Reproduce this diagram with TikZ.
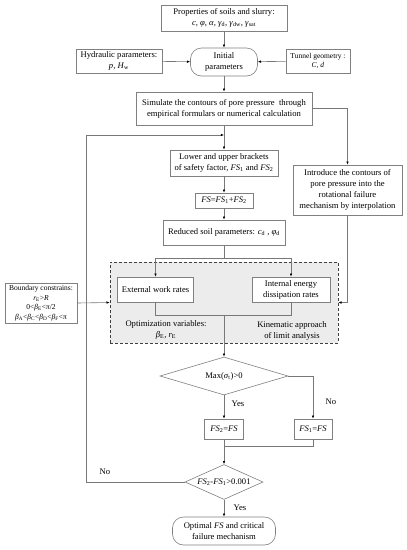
\documentclass[tikz,border=0pt]{standalone}
\usepackage{fontspec}
\setmainfont{Liberation Serif}
\usetikzlibrary{arrows.meta,shapes.geometric,calc}
\definecolor{boxgray}{RGB}{128,128,128}
\definecolor{linegray}{RGB}{120,120,120}
\definecolor{panelfill}{RGB}{236,236,236}
\begin{document}
\begin{tikzpicture}[x=1pt,y=-1pt,
  box/.style={draw=boxgray, line width=0.6pt, fill=white, align=center, inner sep=0pt, font=\fontsize{8.6}{11}\selectfont},
  smallbox/.style={box, font=\fontsize{7.5}{9.5}\selectfont},
  roundbox/.style={box, rounded corners=11pt},
  decision/.style={draw=boxgray, line width=0.6pt, fill=white, shape=diamond, inner sep=0pt, align=center, font=\fontsize{8.6}{11}\selectfont},
  lbl/.style={align=center, inner sep=0pt, font=\fontsize{8.6}{11}\selectfont},
  ln/.style={draw=linegray, line width=0.6pt},
  arr/.style={ln, -{Latex[length=3.2pt,width=2.6pt,color=black]}},
  panelbox/.style={draw=black!75, line width=0.6pt, dash pattern=on 3pt off 2pt, fill=panelfill, inner sep=0pt}
]
\useasboundingbox (0,0) rectangle (407,550);

% dashed panel
\node[panelbox, minimum width=228pt, minimum height=81pt] (panel) at (224,302.5) {};

% nodes
\node[box, minimum width=126pt, minimum height=26pt] (props) at (224,18)
  {Properties of soils and slurry:\\ \textit{c}, \textit{φ}, \textit{α}, \textit{γ}\textsubscript{d}, \textit{γ}\textsubscript{dw}, \textit{γ}\textsubscript{sat}};
\node[roundbox, minimum width=67pt, minimum height=28pt] (init) at (224,62) {Initial\\parameters};
\node[box, minimum width=86pt, minimum height=24pt] (hyd) at (119,61) {Hydraulic parameters:\\ \textit{p}, \textit{H}\textsubscript{w}};
\node[smallbox, minimum width=64pt, minimum height=24pt] (tun) at (318,61) {Tunnel geometry :\\ \textit{C}, \textit{d}};
\node[box, minimum width=176pt, minimum height=33pt] (sim) at (224,108.5)
  {Simulate the contours of pore pressure\ \ through\\ empirical formulars or numerical calculation};
\node[box, minimum width=108pt, minimum height=26pt] (lower) at (224,163)
  {Lower and upper brackets\\ of safety factor, \textit{FS}\textsubscript{1} and \textit{FS}\textsubscript{2}};
\node[box, minimum width=58pt, minimum height=15pt] (fsmid) at (224,200.5) {\textit{FS}=\textit{FS}\textsubscript{1}+\textit{FS}\textsubscript{2}};
\node[box, minimum width=122pt, minimum height=25pt] (red) at (224,232.5) {Reduced soil parameters: \textit{c}\textsubscript{d} , \textit{φ}\textsubscript{d}};
\node[box, minimum width=109pt, minimum height=50pt] (intro) at (347.5,190)
  {Introduce the contours of\\ pore pressure into the\\ rotational failure\\ mechanism by interpolation};
\node[box, minimum width=76pt, minimum height=25pt] (ext) at (155.5,289.5) {External work rates};
\node[box, minimum width=78pt, minimum height=25pt] (int) at (291,289.5) {Internal energy\\ dissipation rates};
\node[lbl] (optv) at (166,329.5) {Optimization variables:\\ \textit{β}\textsubscript{E}, \textit{r}\textsubscript{E}};
\node[lbl] (kin) at (292,330.5) {Kinematic approach\\ of limit analysis};
\node[smallbox, minimum width=72pt, minimum height=40pt] (bound) at (41,303)
  {Boundary constrains:\\ \textit{r}\textsubscript{E}>\textit{R}\\ 0<\textit{β}\textsubscript{E}<π/2\\ \textit{β}\textsubscript{A}<\textit{β}\textsubscript{C}<\textit{β}\textsubscript{D}<\textit{β}\textsubscript{F}<π};
\node[decision, aspect=3.37, minimum width=128pt, minimum height=38pt] (d1) at (224,376) {Max(\textit{σ}\textsubscript{t})>0};
\node[box, minimum width=39pt, minimum height=20pt] (fs2) at (224,429) {\textit{FS}\textsubscript{2}=\textit{FS}};
\node[box, minimum width=38pt, minimum height=20pt] (fs1) at (313,429) {\textit{FS}\textsubscript{1}=\textit{FS}};
\node[decision, aspect=2.2, minimum width=78pt, minimum height=35pt] (d2) at (224,482) {\textit{FS}\textsubscript{2}-\textit{FS}\textsubscript{1}>0.001};
\node[roundbox, minimum width=103pt, minimum height=28pt] (final) at (224,531) {Optimal \textit{FS} and critical\\ failure mechanism};

\node[lbl] (yes1) at (238,404) {Yes};
\node[lbl] (no1) at (331,402) {No};
\node[lbl] (no2) at (105,472) {No};
\node[lbl] (yes2) at (240,508) {Yes};

% coordinates
\coordinate (join) at (224,135);
\coordinate (loopc) at (86,135);
\coordinate (split) at (224,258);
\coordinate (merge) at (224,315);
\coordinate (merge2) at (224,446);

% connectors
\draw[arr] (props) -- (init);
\draw[arr] (hyd) -- (init);
\draw[arr] (tun) -- (init);
\draw[arr] (init) -- (sim);
\draw[arr] (sim.south) -- (lower.north);
\draw[arr] (sim.east) -| (intro.north);
\draw[arr] (lower) -- (fsmid);
\draw[arr] (fsmid) -- (red);
\draw[ln] (red.south) -- (split);
\draw[arr] (split) -| (ext.north);
\draw[arr] (split) -| (int.north);
\draw[ln] (ext.south) |- (merge);
\draw[ln] (int.south) |- (merge);
\draw[arr] (merge) -- (d1.north);
\draw[arr] (intro.south) |- (panel.east);
\draw[arr] (bound.east) -- (panel.west);
\draw[arr] (d1.south) -- (fs2.north);
\draw[arr] (d1.east) -| (fs1.north);
\draw[ln] (fs1.south) |- (merge2);
\draw[arr] (fs2.south) -- (d2.north);
\draw[arr] (d2.south) -- (final.north);
\draw[arr] (d2.west) -| (loopc) -- (join);
\end{tikzpicture}
\end{document}
